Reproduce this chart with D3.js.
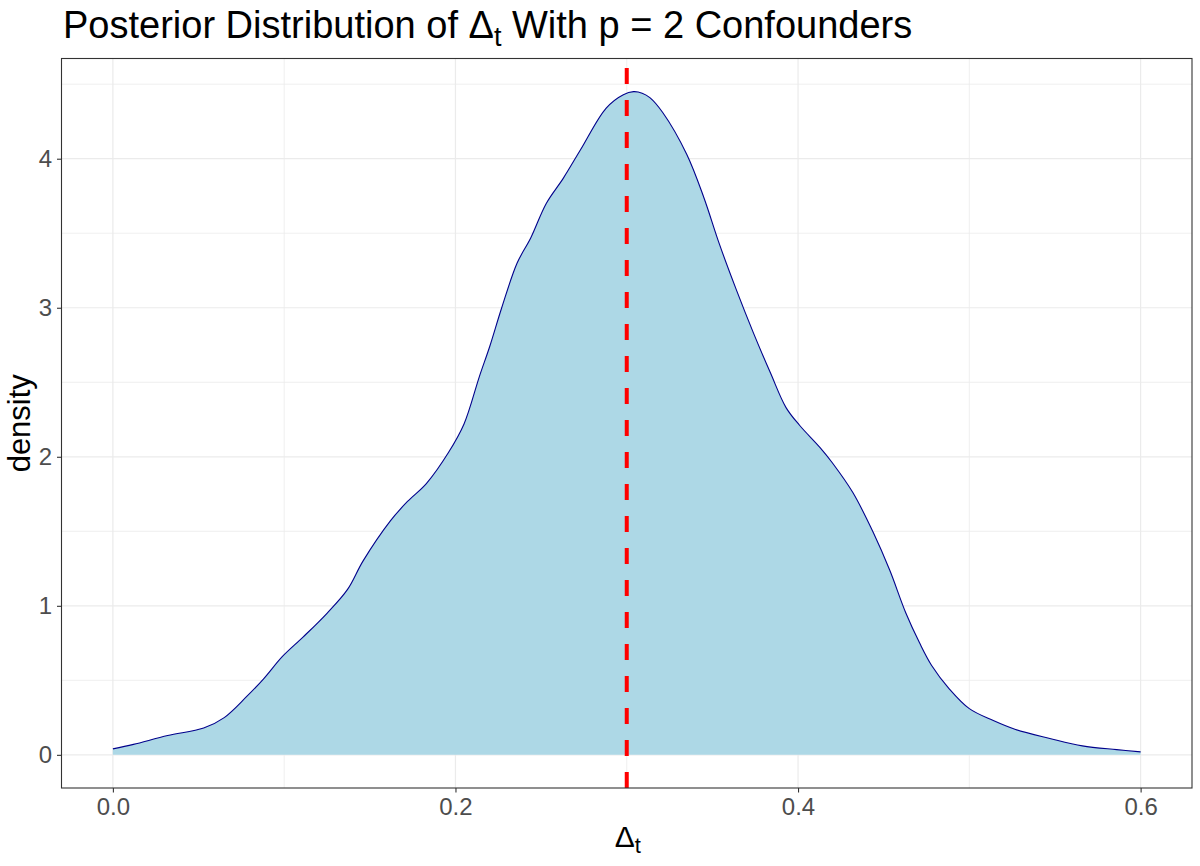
<!DOCTYPE html>
<html>
<head>
<meta charset="utf-8">
<script src="https://cdn.jsdelivr.net/npm/d3@7"></script>
<style>
  html, body { margin: 0; padding: 0; background: #fff; }
  svg { display: block; }
  text { font-family: "Liberation Sans", Arial, sans-serif; }
</style>
</head>
<body>
<svg id="chart" width="1200" height="866"></svg>
<script>
// ---- Data ----
const deltaT = [0, 0.012, 0.032, 0.053, 0.065, 0.078, 0.088, 0.099, 0.111, 0.125, 0.137, 0.146,
  0.162, 0.172, 0.183, 0.196, 0.205, 0.214, 0.220, 0.227, 0.236, 0.244, 0.253, 0.263, 0.273,
  0.288, 0.298, 0.304, 0.309, 0.3135, 0.321, 0.335, 0.345, 0.354, 0.364, 0.374, 0.384, 0.393, 0.401,
  0.413, 0.420, 0.432, 0.444, 0.4535, 0.463, 0.471, 0.478, 0.4885, 0.500, 0.514, 0.527, 0.547,
  0.566, 0.586, 0.600];
const density = [0.04, 0.07, 0.13, 0.18, 0.25, 0.39, 0.51, 0.66, 0.79, 0.95, 1.11, 1.30,
  1.57, 1.70, 1.82, 2.03, 2.22, 2.54, 2.74, 3.00, 3.30, 3.47, 3.70, 3.87, 4.06,
  4.34, 4.43, 4.45, 4.44, 4.41, 4.31, 4.03, 3.74, 3.43, 3.12, 2.83, 2.56, 2.33, 2.21,
  2.06, 1.96, 1.76, 1.49, 1.24, 0.95, 0.75, 0.60, 0.44, 0.31, 0.23, 0.17, 0.11,
  0.06, 0.035, 0.02];
const vlineValue = [0.3];
const xTicks = [0.0, 0.2, 0.4, 0.6];
const xTickLabels = ["0.0", "0.2", "0.4", "0.6"];
const xMinor = [0.1, 0.3, 0.5];
const yTicks = [0, 1, 2, 3, 4];
const yTickLabels = ["0", "1", "2", "3", "4"];
const yMinor = [0.5, 1.5, 2.5, 3.5, 4.5];

const pts = deltaT.map((x, i) => ({x, y: density[i]}));

const svg = d3.select("#chart");
const L = 61.5, R = 1192, T = 58.5, B = 788;

const xMin = d3.min(deltaT), xMax = d3.max(deltaT);
const xPad = (xMax - xMin) * 0.05;
const yMax = d3.max(density);
const yPad = yMax * 0.05;

const x = d3.scaleLinear().domain([xMin - xPad, xMax + xPad]).range([L, R]);
const y = d3.scaleLinear().domain([-yPad, yMax + yPad]).range([B, T]);

// background
svg.append("rect").attr("x", L).attr("y", T).attr("width", R - L).attr("height", B - T).attr("fill", "#fff");

// grid
const grid = svg.append("g");
grid.selectAll(".ymin").data(yMinor).join("line")
  .attr("x1", L).attr("x2", R).attr("y1", d => y(d)).attr("y2", d => y(d))
  .attr("stroke", "#ebebeb").attr("stroke-width", 0.8);
grid.selectAll(".xmin").data(xMinor).join("line")
  .attr("y1", T).attr("y2", B).attr("x1", d => x(d)).attr("x2", d => x(d))
  .attr("stroke", "#ebebeb").attr("stroke-width", 0.8);
grid.selectAll(".ymaj").data(yTicks).join("line")
  .attr("x1", L).attr("x2", R).attr("y1", d => y(d)).attr("y2", d => y(d))
  .attr("stroke", "#ebebeb").attr("stroke-width", 1.2);
grid.selectAll(".xmaj").data(xTicks).join("line")
  .attr("y1", T).attr("y2", B).attr("x1", d => x(d)).attr("x2", d => x(d))
  .attr("stroke", "#ebebeb").attr("stroke-width", 1.2);

// density area
const curve = d3.curveCatmullRom.alpha(0.5);
const area = d3.area().x(d => x(d.x)).y0(y(0)).y1(d => y(d.y)).curve(curve);
const line = d3.line().x(d => x(d.x)).y(d => y(d.y)).curve(curve);
svg.append("path").datum(pts).attr("d", area).attr("fill", "#add8e6");
svg.append("path").datum(pts).attr("d", line).attr("fill", "none")
  .attr("stroke", "#00008b").attr("stroke-width", 1.1);

// vertical dashed line (drawn from bottom to top)
svg.selectAll(".vline").data(vlineValue).join("line")
  .attr("x1", d => x(d)).attr("x2", d => x(d)).attr("y1", B).attr("y2", T)
  .attr("stroke", "#ff0000").attr("stroke-width", 4).attr("stroke-dasharray", "16,16");

// panel border
svg.append("rect").attr("x", L).attr("y", T).attr("width", R - L).attr("height", B - T)
  .attr("fill", "none").attr("stroke", "#333333").attr("stroke-width", 1.1);

// axes
const xAxis = d3.axisBottom(x).tickValues(xTicks).tickFormat((d, i) => xTickLabels[i])
  .tickSize(4.5).tickPadding(5);
const gx = svg.append("g").attr("transform", `translate(0,${B})`).call(xAxis);
gx.select(".domain").remove();
gx.selectAll(".tick line").attr("stroke", "#333333").attr("stroke-width", 1.1);
gx.selectAll(".tick text").attr("fill", "#4d4d4d").style("font-size", "24px")
  .style("font-family", "'Liberation Sans', Arial, sans-serif");

const yAxis = d3.axisLeft(y).tickValues(yTicks).tickFormat((d, i) => yTickLabels[i])
  .tickSize(4.5).tickPadding(5);
const gy = svg.append("g").attr("transform", `translate(${L},0)`).call(yAxis);
gy.select(".domain").remove();
gy.selectAll(".tick line").attr("stroke", "#333333").attr("stroke-width", 1.1);
gy.selectAll(".tick text").attr("fill", "#4d4d4d").style("font-size", "24px")
  .style("font-family", "'Liberation Sans', Arial, sans-serif");

// title
const title = svg.append("text").attr("x", 63).attr("y", 38).attr("fill", "#000")
  .style("font-size", "38px");
title.append("tspan").text("Posterior Distribution of Δ");
title.append("tspan").text("t").attr("dy", 8).style("font-size", "27px");
title.append("tspan").text(" With p = 2 Confounders").attr("dy", -8);

// x axis title
const xt = svg.append("text").attr("x", (L + R) / 2 + 1).attr("y", 846.5).attr("text-anchor", "middle")
  .attr("fill", "#000").style("font-size", "30px");
xt.append("tspan").text("Δ");
xt.append("tspan").text("t").attr("dy", 6).style("font-size", "22px");

// y axis title
svg.append("text").attr("transform", `translate(30,${(T + B) / 2}) rotate(-90)`)
  .attr("text-anchor", "middle").attr("fill", "#000").style("font-size", "31px").text("density");
</script>
</body>
</html>
